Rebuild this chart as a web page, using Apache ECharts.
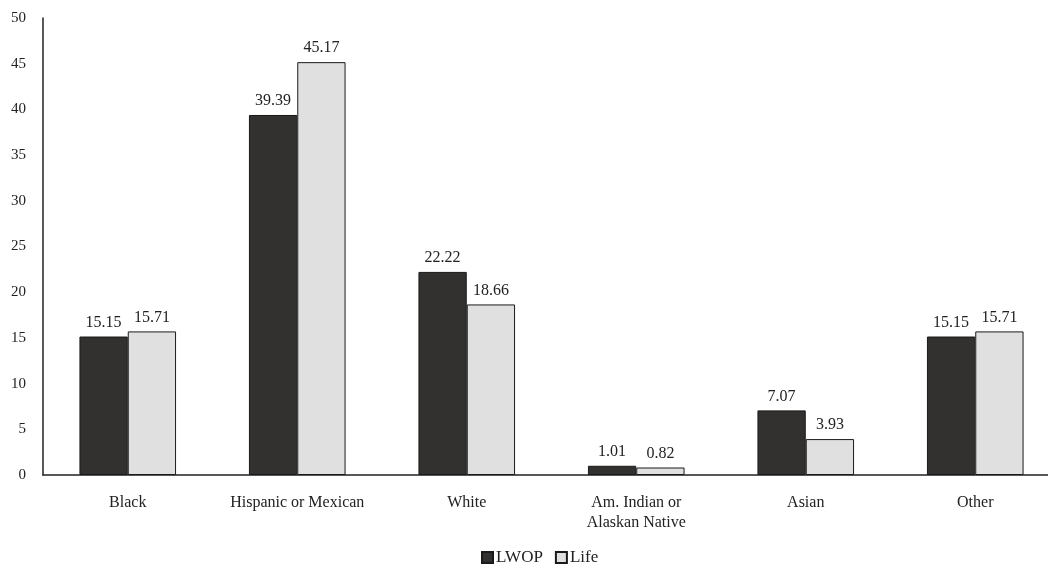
<!DOCTYPE html>
<html><head><meta charset="utf-8">
<script src="https://cdn.jsdelivr.net/npm/echarts@6/dist/echarts.min.js"></script>
<style>html,body{margin:0;padding:0;background:#fff;overflow:hidden}#c{width:1060px;height:575px}</style>
</head><body><div id="c"></div>
<script>
const categories = ["Black", "Hispanic or Mexican", "White", "Am. Indian or\nAlaskan Native", "Asian", "Other"];
const lwop = [15.15, 39.39, 22.22, 1.01, 7.07, 15.15];
const life = [15.71, 45.17, 18.66, 0.82, 3.93, 15.71];
const seriesNames = ["LWOP", "Life"];
const yTicks = {min: 0, max: 50, interval: 5};

const font = "'Liberation Serif', 'DejaVu Serif', serif";
const chart = echarts.init(document.getElementById('c'));
chart.setOption({
  animation: false,
  textStyle: {fontFamily: font},
  grid: {left: 43, right: 0, top: 18, bottom: 100},
  legend: {
    bottom: 4, left: 476, icon: 'rect', itemWidth: 11, itemHeight: 11, itemGap: 12,
    textStyle: {fontFamily: font, fontSize: 17, color: '#222', padding: [0, 0, 0, -2]},
    data: seriesNames
  },
  xAxis: {
    type: 'category', data: categories,
    axisLine: {lineStyle: {color: '#222', width: 1.5}},
    axisTick: {show: false},
    axisLabel: {interval: 0, fontFamily: font, fontSize: 16, color: '#222', margin: 18, lineHeight: 20}
  },
  yAxis: {
    type: 'value', min: yTicks.min, max: yTicks.max, interval: yTicks.interval,
    axisLine: {show: true, lineStyle: {color: '#222', width: 1.5}},
    axisTick: {show: false},
    splitLine: {show: false},
    axisLabel: {fontFamily: font, fontSize: 15, color: '#222', margin: 17}
  },
  series: [
    {
      name: seriesNames[0], type: 'bar', data: lwop, barGap: '0%', barCategoryGap: '43%',
      itemStyle: {color: '#333030', borderColor: '#1a1a1a', borderWidth: 1},
      label: {show: true, position: 'top', fontFamily: font, fontSize: 16, color: '#222', distance: 6, formatter: p => p.value.toFixed(2)}
    },
    {
      name: seriesNames[1], type: 'bar', data: life,
      itemStyle: {color: '#e0e0e0', borderColor: '#1a1a1a', borderWidth: 1},
      label: {show: true, position: 'top', fontFamily: font, fontSize: 16, color: '#222', distance: 6, formatter: p => p.value.toFixed(2)}
    }
  ]
});
</script></body></html>
